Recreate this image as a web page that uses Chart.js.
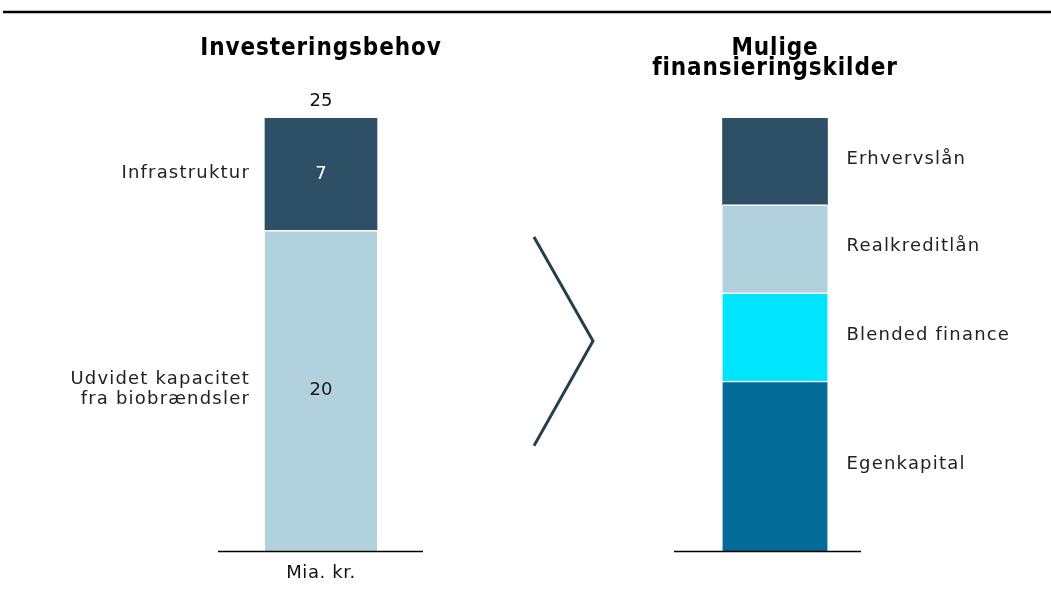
<!DOCTYPE html>
<html>
<head>
<meta charset="utf-8">
<script src="https://cdn.jsdelivr.net/npm/chart.js@4.4.1/dist/chart.umd.min.js"></script>
<style>
html, body { margin: 0; padding: 0; background: #fff; }
#wrap { width: 1051px; height: 602px; position: relative; }
</style>
</head>
<body>
<div id="wrap"><canvas id="chart"></canvas></div>
<script>
// data
var groups = ['Investeringsbehov', 'Mulige\nfinansieringskilder'];
var needLabels = ['Udvidet kapacitet\nfra biobrændsler', 'Infrastruktur'];
var needValues = [20, 7];
var needTotalLabel = '25';
var sourceLabels = ['Egenkapital', 'Blended finance', 'Realkreditlån', 'Erhvervslån'];
var sourceValues = [10.6, 5.5, 5.5, 5.4]; // ingen tal i figuren, aflæst som andele
var unitLabel = 'Mia. kr.';

var needColors = ['#b1d1dc', '#2d5066'];
var needTextColors = ['#1a1a1a', '#ffffff'];
var sourceColors = ['#026b98', '#00e5ff', '#b1d1dc', '#2d5066'];

var bodyFont = '18px "DejaVu Sans", sans-serif';
var titleFont = 'bold 24px "DejaVu Sans Condensed", "DejaVu Sans", sans-serif';

var datasets = [];
for (var i = 0; i < needValues.length; i++) {
	datasets.push({
		label: needLabels[i],
		data: [needValues[i], null],
		backgroundColor: needColors[i],
		borderColor: '#ffffff',
		borderWidth: { top: i < needValues.length - 1 ? 1.5 : 0, left: 0, right: 0, bottom: 0 },
		borderSkipped: false,
		barThickness: 112,
		stack: 's',
		part: 'need',
		idx: i
	});
}
for (var j = 0; j < sourceValues.length; j++) {
	datasets.push({
		label: sourceLabels[j],
		data: [null, sourceValues[j]],
		backgroundColor: sourceColors[j],
		borderColor: '#ffffff',
		borderWidth: { top: j < sourceValues.length - 1 ? 1.5 : 0, left: 0, right: 0, bottom: 0 },
		borderSkipped: false,
		barThickness: 105,
		stack: 's',
		part: 'source',
		idx: j
	});
}

function drawLines(ctx, text, x, y, lh) {
	var lines = text.split('\n');
	var y0 = y - (lines.length - 1) * lh / 2;
	for (var k = 0; k < lines.length; k++) ctx.fillText(lines[k], x, y0 + k * lh);
}

var labelPlugin = {
	id: 'labels',
	afterDatasetsDraw: function(chart) {
		var ctx = chart.ctx;
		var area = chart.chartArea;
		var xs = chart.scales.x;
		var hasLS = 'letterSpacing' in ctx;
		function spacing(v) { if (hasLS) ctx.letterSpacing = v; }
		ctx.save();

		// linje øverst
		ctx.strokeStyle = '#000';
		ctx.lineWidth = 2.5;
		ctx.beginPath(); ctx.moveTo(3, 12); ctx.lineTo(1051, 12); ctx.stroke();

		// titler
		spacing('0.9px');
		ctx.font = titleFont;
		ctx.fillStyle = '#000';
		ctx.textAlign = 'center';
		ctx.textBaseline = 'alphabetic';
		ctx.fillText(groups[0], xs.getPixelForValue(0), 55);
		var tl = groups[1].split('\n');
		ctx.fillText(tl[0], xs.getPixelForValue(1), 55);
		ctx.fillText(tl[1], xs.getPixelForValue(1), 75);

		ctx.font = bodyFont;
		ctx.textBaseline = 'middle';
		chart.data.datasets.forEach(function(ds, di) {
			var meta = chart.getDatasetMeta(di);
			var el = meta.data[ds.part === 'need' ? 0 : 1];
			var cy = (el.y + el.base) / 2;
			spacing('1.2px');
			if (ds.part === 'need') {
				ctx.fillStyle = '#222';
				ctx.textAlign = 'right';
				drawLines(ctx, ds.label, el.x - el.width / 2 - 15, cy - 1, 20);
				spacing('0px');
				ctx.fillStyle = needTextColors[ds.idx];
				ctx.textAlign = 'center';
				ctx.fillText(String(needValues[ds.idx]), el.x, cy);
			} else {
				ctx.fillStyle = '#222';
				ctx.textAlign = 'left';
				ctx.fillText(ds.label, el.x + el.width / 2 + 19, cy - 2);
			}
		});

		// total og enhed
		var x0 = xs.getPixelForValue(0), x1 = xs.getPixelForValue(1);
		var topY = chart.scales.y.getPixelForValue(needValues.reduce(function(a, b) { return a + b; }, 0));
		ctx.fillStyle = '#111';
		ctx.textAlign = 'center';
		spacing('0px');
		ctx.fillText(needTotalLabel, x0, topY - 17);
		spacing('0.6px');
		ctx.fillText(unitLabel, x0, area.bottom + 22);

		// grundlinjer
		ctx.strokeStyle = '#000';
		ctx.lineWidth = 1.5;
		ctx.beginPath();
		ctx.moveTo(x0 - 103, area.bottom + 0.5); ctx.lineTo(x0 + 102, area.bottom + 0.5);
		ctx.moveTo(x1 - 101, area.bottom + 0.5); ctx.lineTo(x1 + 86, area.bottom + 0.5);
		ctx.stroke();

		// pil
		var h = area.bottom - area.top;
		var mx = (x0 + x1) / 2;
		ctx.strokeStyle = '#24404f';
		ctx.lineWidth = 3;
		ctx.beginPath();
		ctx.moveTo(mx - 14, area.top + h * 0.275);
		ctx.lineTo(mx + 45, area.top + h * 0.515);
		ctx.lineTo(mx - 14, area.top + h * 0.757);
		ctx.stroke();
		ctx.restore();
	}
};

var ctx = document.getElementById('chart').getContext('2d');
var chart = new Chart(ctx, {
	type: 'bar',
	data: { labels: groups, datasets: datasets },
	options: {
		responsive: true,
		maintainAspectRatio: false,
		animation: false,
		layout: { padding: { left: 94, right: 49, top: 118, bottom: 51 } },
		plugins: { legend: { display: false }, tooltip: { enabled: false }, title: { display: false } },
		scales: {
			x: { display: false, stacked: true },
			y: { display: false, stacked: true, min: 0, max: 27 }
		}
	},
	plugins: [labelPlugin]
});
</script>
</body>
</html>
